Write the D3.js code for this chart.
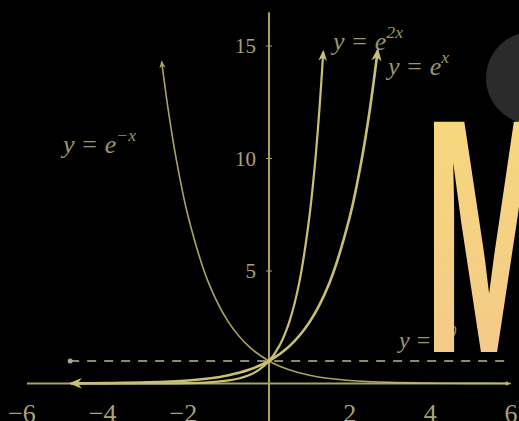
<!DOCTYPE html>
<html>
<head>
<meta charset="utf-8">
<script src="https://cdn.jsdelivr.net/npm/d3@7"></script>
<style>
  html, body { margin: 0; padding: 0; background: #000; }
  svg { display: block; }
</style>
</head>
<body>
<div id="chart"></div>
<script>
// values
const expX = [-4.9, -4, -3, -2, -1.5, -1, -0.5, 0, 0.5, 1, 1.5, 2, 2.3, 2.5, 2.695];
const expY = [0.0074, 0.018, 0.050, 0.135, 0.223, 0.368, 0.607, 1, 1.649, 2.718, 4.482, 7.389, 9.974, 12.18, 14.8];

const exp2X = [-4.9, -3, -2, -1.5, -1, -0.75, -0.5, -0.25, 0, 0.25, 0.5, 0.75, 1, 1.15, 1.25, 1.345];
const exp2Y = [0.0001, 0.0025, 0.018, 0.050, 0.135, 0.223, 0.368, 0.607, 1, 1.649, 2.718, 4.482, 7.389, 9.974, 12.18, 14.73];

const expNegX = [-2.66, -2.5, -2.3, -2, -1.5, -1, -0.5, 0, 0.5, 1, 1.5, 2, 3, 4, 5, 6];
const expNegY = [14.3, 12.18, 9.974, 7.389, 4.482, 2.718, 1.649, 1, 0.607, 0.368, 0.223, 0.135, 0.050, 0.018, 0.0067, 0.0025];

const dashX = [-4.93, 5.9];
const dashY = [1, 1];

const xTicks = [-6, -4, -2, 2, 4, 6];
const yTicks = [5, 10, 15];

const width = 519, height = 421;
const curveColor = "#c8c174";
const axisColor = "#aaa35e";
const textColor = "#a9a27a";
const eqColor = "#9c966a";

const svg = d3.select("#chart").append("svg")
  .attr("width", width).attr("height", height)
  .style("background", "#000");

const x = d3.scaleLinear().domain([-6, 6]).range([27, 511]);
const y = d3.scaleLinear().domain([0, 15]).range([383.5, 46]);

const defs = svg.append("defs");

// arrow head
defs.append("marker")
  .attr("id", "arrow")
  .attr("viewBox", "0 0 10 10")
  .attr("refX", 8).attr("refY", 5)
  .attr("markerWidth", 5).attr("markerHeight", 5)
  .attr("orient", "auto-start-reverse")
  .append("path")
  .attr("d", "M0,1 L10,5 L0,9 L3,5 Z")
  .attr("fill", curveColor);

const grad = defs.append("linearGradient")
  .attr("id", "mgrad").attr("x1", 0).attr("y1", 0).attr("x2", 0).attr("y2", 1);
grad.append("stop").attr("offset", "0%").attr("stop-color", "#f7dc79");
grad.append("stop").attr("offset", "100%").attr("stop-color", "#f3c68c");

// dark disc top right
svg.append("circle")
  .attr("cx", 532).attr("cy", 78).attr("r", 46)
  .attr("fill", "#2b2b2b");

// axes
svg.append("line")
  .attr("x1", x(-6)).attr("x2", x(5.9))
  .attr("y1", y(0)).attr("y2", y(0))
  .attr("stroke", axisColor).attr("stroke-width", 2);
svg.append("circle")
  .attr("cx", x(5.9)).attr("cy", y(0)).attr("r", 2).attr("fill", axisColor);

svg.append("line")
  .attr("x1", x(0)).attr("x2", x(0))
  .attr("y1", y(-1.7)).attr("y2", y(16.5))
  .attr("stroke", axisColor).attr("stroke-width", 2);

svg.append("g").selectAll("line").data(yTicks).join("line")
  .attr("x1", x(0) - 3).attr("x2", x(0) + 3)
  .attr("y1", d => y(d)).attr("y2", d => y(d))
  .attr("stroke", axisColor).attr("stroke-width", 1);

svg.append("g").selectAll("text").data(yTicks).join("text")
  .attr("x", x(0) - 13).attr("y", d => y(d) + 7)
  .attr("text-anchor", "end")
  .attr("font-family", "Liberation Serif, DejaVu Serif, serif")
  .attr("font-size", 21)
  .attr("fill", textColor)
  .text(d => d);

svg.append("g").selectAll("text").data(xTicks).join("text")
  .attr("x", d => x(d) - (d < 0 ? 5 : 0)).attr("y", 422)
  .attr("text-anchor", "middle")
  .attr("font-family", "Liberation Serif, DejaVu Serif, serif")
  .attr("font-size", 26)
  .attr("fill", textColor)
  .text(d => d < 0 ? "\u2212" + Math.abs(d) : d);

// dashed y = 1
svg.append("line")
  .attr("x1", x(dashX[0])).attr("x2", x(dashX[1]))
  .attr("y1", y(dashY[0])).attr("y2", y(dashY[1]))
  .attr("stroke", "#8d8a6c").attr("stroke-width", 2)
  .attr("stroke-dasharray", "9,8");
svg.append("circle")
  .attr("cx", x(dashX[0])).attr("cy", y(dashY[0])).attr("r", 2.5).attr("fill", "#aaa890");

// curves
const line = d3.line().x(d => x(d[0])).y(d => y(d[1])).curve(d3.curveCatmullRom);

svg.append("path")
  .datum(d3.zip(expNegX, expNegY))
  .attr("d", line)
  .attr("fill", "none").attr("stroke", curveColor).attr("stroke-width", 1.6)
  .attr("opacity", 0.85)
  .attr("marker-start", "url(#arrow)");

svg.append("path")
  .datum(d3.zip(exp2X, exp2Y))
  .attr("d", line)
  .attr("fill", "none").attr("stroke", curveColor).attr("stroke-width", 2.2)
  .attr("marker-end", "url(#arrow)");

svg.append("path")
  .datum(d3.zip(expX, expY))
  .attr("d", line)
  .attr("fill", "none").attr("stroke", curveColor).attr("stroke-width", 2.6)
  .attr("marker-start", "url(#arrow)")
  .attr("marker-end", "url(#arrow)");

// curve labels
function eqLabel(px, py, sup, size) {
  const t = svg.append("text")
    .attr("x", px).attr("y", py)
    .attr("font-family", "Liberation Serif, DejaVu Serif, serif")
    .attr("font-size", size)
    .attr("fill", eqColor);
  t.append("tspan").attr("font-style", "italic").text("y");
  t.append("tspan").attr("dx", size * 0.3).text("=");
  t.append("tspan").attr("dx", size * 0.3).attr("font-style", "italic").text("e");
  t.append("tspan").attr("dy", -size * 0.45).attr("font-size", size * 0.68)
    .attr("font-style", "italic").text(sup);
}
eqLabel(63, 153, "\u2212x", 26);
eqLabel(333, 50, "2x", 26);
eqLabel(388, 75, "x", 26);
eqLabel(399, 348, "0", 24);

// big letter
svg.append("text")
  .attr("transform", "translate(489,352) scale(0.48,1.02)")
  .attr("text-anchor", "middle")
  .attr("font-family", "Liberation Sans, Arial, sans-serif")
  .attr("font-weight", "bold")
  .attr("font-size", 328)
  .attr("fill", "url(#mgrad)")
  .text("M");
</script>
</body>
</html>
